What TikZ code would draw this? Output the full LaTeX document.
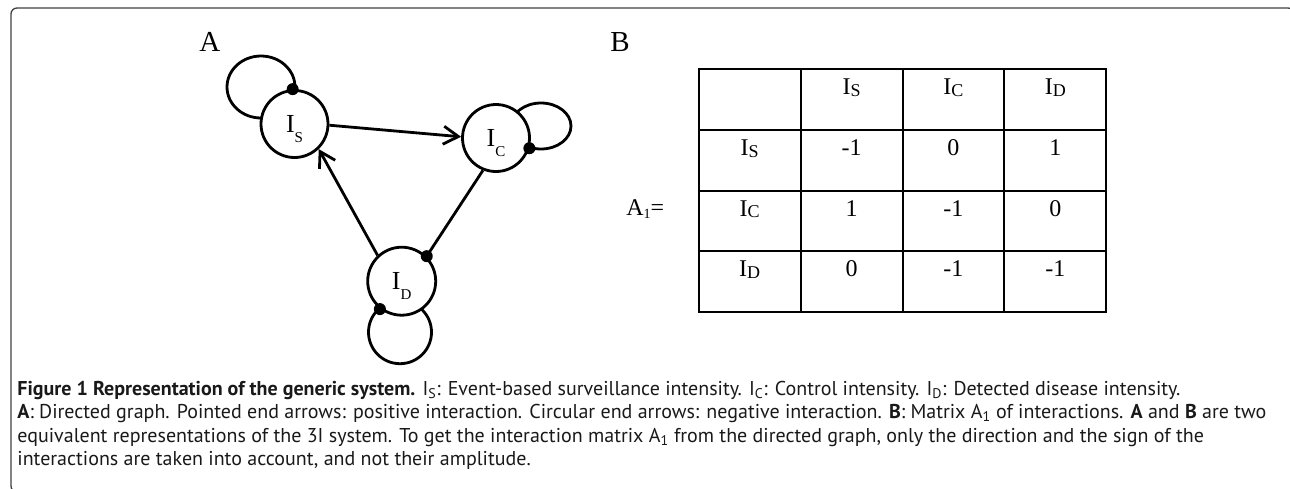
\documentclass[tikz,border=0pt]{standalone}
\usepackage{fontspec}
\setmainfont{Liberation Serif}
\newfontfamily\capfont{PT Sans}
\usetikzlibrary{arrows.meta,backgrounds,matrix}
\newcommand{\glab}[1]{I\smash{\raisebox{-10pt}{\fontsize{15}{15}\selectfont #1}}}
\newcommand{\tlab}[1]{I\raisebox{-1.7pt}{\fontsize{18}{18}\selectfont #1}}
\begin{document}
\begin{tikzpicture}[x=1pt,y=-1pt,line width=2.8pt,
  gnode/.style={circle,draw,line width=2.8pt,minimum size=67pt,inner sep=0pt,fill=white,font=\fontsize{26}{26}\selectfont},
  loopline/.style={draw,line width=2.8pt},
  dotmark/.style={fill=black},
  pos arrow/.style={-{Straight Barb[length=15pt,width=18pt]}},
  panel/.style={anchor=base west,inner sep=0pt,font=\fontsize{29}{29}\selectfont},
  cell/.style={draw,line width=2pt,inner sep=0pt,outer sep=0pt,minimum width=101.9pt,
    text height=25.5pt,text depth=35.1pt,font=\fontsize{24}{24}\selectfont,anchor=center}]
\useasboundingbox (0,0) rectangle (1290,488);
% frame
\draw[line width=1.3pt,black!75,rounded corners=6pt] (11,8) rectangle (1294,492);
% graph nodes
\node[gnode] (IS) at (294.5,124) {\glab{S}};
\node[gnode] (IC) at (496,138) {\glab{C}};
\node[gnode,minimum size=68pt] (ID) at (401.7,281.2) {\glab{D}};
% self loops (behind nodes)
\begin{scope}[on background layer]
\draw[loopline] ([shift={(-33.5,-37)}]IS.center) ellipse[x radius=34,y radius=31];
\draw[loopline] ([shift={(45,-12)}]IC.center) ellipse[x radius=30,y radius=23];
\draw[loopline] ([shift={(-1.7,51)}]ID.center) circle[radius=31.5];
\end{scope}
% edges
\draw[pos arrow] (IS.-2) -- (IC.178);
\draw[pos arrow] (ID.133) -- (IS.-46);
\draw (IC.248) -- (ID.45);
% circular ends
\fill[dotmark] (IS.93) circle[radius=6];
\fill[dotmark] (IC.-17) circle[radius=6];
\fill[dotmark] (ID.45) circle[radius=6];
\fill[dotmark] (ID.232) circle[radius=6];
% panel labels
\node[panel] (LA) at (198,51) {A};
\node[panel] (LB) at (609,51) {B};
% matrix
\matrix (M) [matrix of nodes,anchor=north west,inner sep=0pt,outer sep=0pt,
  column sep=-2pt,row sep=-2pt,nodes={cell}] at (697.7,68.3) {
  {} & \tlab{S} & \tlab{C} & \tlab{D} \\
  \tlab{S} & -1 & 0 & 1 \\
  \tlab{C} & 1 & -1 & 0 \\
  \tlab{D} & 0 & -1 & -1 \\
};
\node[anchor=base west,inner sep=0pt,font=\fontsize{24}{24}\selectfont] (A1) at (625,215)
  {A\raisebox{-3pt}{\fontsize{14}{14}\selectfont 1}=};
% caption
\node[anchor=base west,align=left,inner sep=0pt,text=black!90,
  font=\capfont\fontsize{20}{23.5}\selectfont] (cap) at (16,465.5)
  {\textbf{Figure 1 Representation of the generic system.} I\textsubscript{S}: Event-based surveillance intensity. I\textsubscript{C}: Control intensity. I\textsubscript{D}: Detected disease intensity.\\
   \textbf{A}: Directed graph. Pointed end arrows: positive interaction. Circular end arrows: negative interaction. \textbf{B}: Matrix A\textsubscript{1} of interactions. \textbf{A} and \textbf{B} are two\\
   equivalent representations of the 3I system. To get the interaction matrix A\textsubscript{1} from the directed graph, only the direction and the sign of the\\
   interactions are taken into account, and not their amplitude.};
\end{tikzpicture}
\end{document}
